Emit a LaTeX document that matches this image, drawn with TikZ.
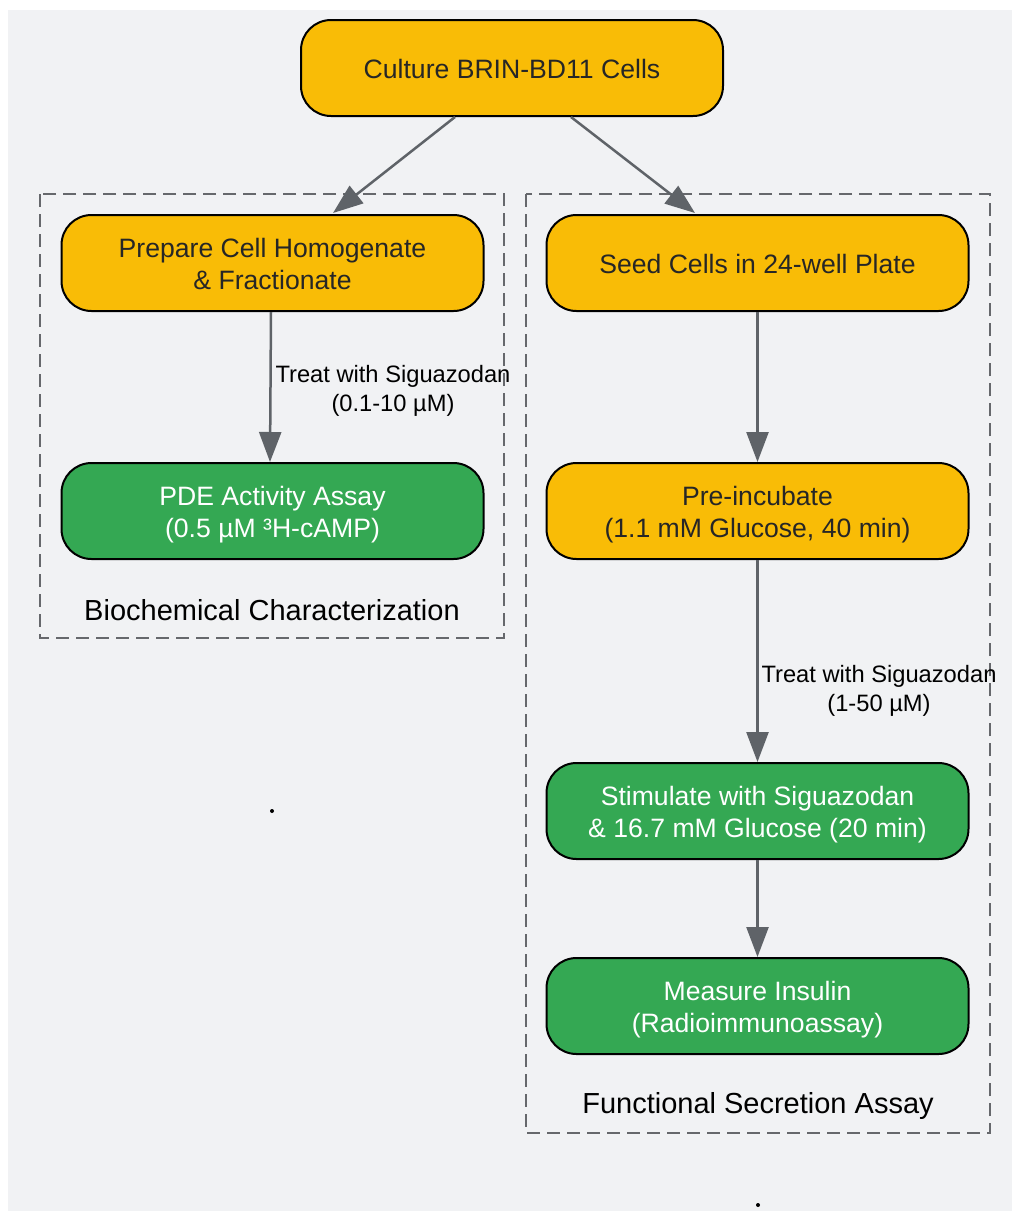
\documentclass[tikz,border=0pt]{standalone}
\usepackage{fontspec}
\setmainfont{Liberation Sans}
\usetikzlibrary{arrows.meta}
\definecolor{bg}{HTML}{F1F2F4}
\definecolor{ylw}{HTML}{F9BC06}
\definecolor{grn}{HTML}{34A853}
\definecolor{arr}{HTML}{5F6368}
\definecolor{clus}{HTML}{66686C}
\begin{document}
\begin{tikzpicture}[x=1pt,y=-1pt,
  box/.style={draw=black,line width=2pt,rounded corners=30pt,minimum width=422pt,minimum height=96pt,inner sep=0pt},
  ntxt/.style={align=center,inner sep=0pt,font=\fontsize{26.6}{32}\selectfont},
  ybox/.style={box,fill=ylw},
  gbox/.style={box,fill=grn},
  ytxt/.style={ntxt,text=black!85},
  gtxt/.style={ntxt,text=white},
  cluster/.style={draw=clus,line width=2.8pt,dash pattern=on 13pt off 7pt},
  flow/.style={draw=arr,line width=2.5pt,-{Triangle[length=30pt,width=22pt]}},
  lbl/.style={font=\fontsize{23.7}{29}\selectfont,align=center,text=black},
  clbl/.style={font=\fontsize{29}{34}\selectfont,text=black},
  dotpt/.style={circle,fill=black,inner sep=0pt,minimum size=4pt}
]
\useasboundingbox (0,0) rectangle (1012,1211);
\fill[bg] (8,10) rectangle (1012,1211);
% clusters
\draw[cluster] (40,194) rectangle (504,638);
\draw[cluster] (526,194) rectangle (990,1133);
\node[clbl] (c1) at (272,610) {Biochemical Characterization};
\node[clbl] (c2) at (758,1106) {Functional Secretion Assay};
% nodes
\node[ybox,label={[ytxt,yshift=-1pt]center:Culture BRIN-BD11 Cells}] (top) at (512,68) {};
\node[ybox,label={[ytxt,yshift=-0.5pt]center:{Prepare Cell Homogenate\\\& Fractionate}}] (prep) at (272.5,263) {};
\node[ybox,label={[ytxt,yshift=-1pt]center:Seed Cells in 24-well Plate}] (seed) at (757.5,263) {};
\node[gbox,label={[gtxt,yshift=-3.5pt]center:{PDE Activity Assay\\(0.5 µM ³H-cAMP)}}] (pde) at (272.5,511) {};
\node[ybox,label={[ytxt,yshift=-3.5pt]center:{Pre-incubate\\(1.1 mM Glucose, 40 min)}}] (pre) at (757.5,511) {};
\node[gbox,label={[gtxt,yshift=-3.5pt]center:{Stimulate with Siguazodan\\\& 16.7 mM Glucose (20 min)}}] (stim) at (757.5,811) {};
\node[gbox,label={[gtxt,yshift=-3.5pt]center:{Measure Insulin\\(Radioimmunoassay)}}] (meas) at (757.5,1006) {};
\node[dotpt] (d1) at (272,811) {};
\node[dotpt] (d2) at (758,1205) {};
% connectors
\coordinate (t1) at (455,117);
\coordinate (t2) at (571,117);
\coordinate (p1) at (333,213);
\coordinate (s1) at (695,213);
\draw[flow] (t1) -- (p1);
\draw[flow] (t2) -- (s1);
\draw[flow] (prep.south -| 271,0) -- (pde.north -| 270,0);
\node[lbl] (l1) at (393,391) {Treat with Siguazodan\\(0.1-10 µM)};
\draw[flow] (seed) -- (pre);
\draw[flow] (pre) -- (stim);
\node[lbl] (l2) at (879,691) {Treat with Siguazodan\\(1-50 µM)};
\draw[flow] (stim) -- (meas);
\end{tikzpicture}
\end{document}
